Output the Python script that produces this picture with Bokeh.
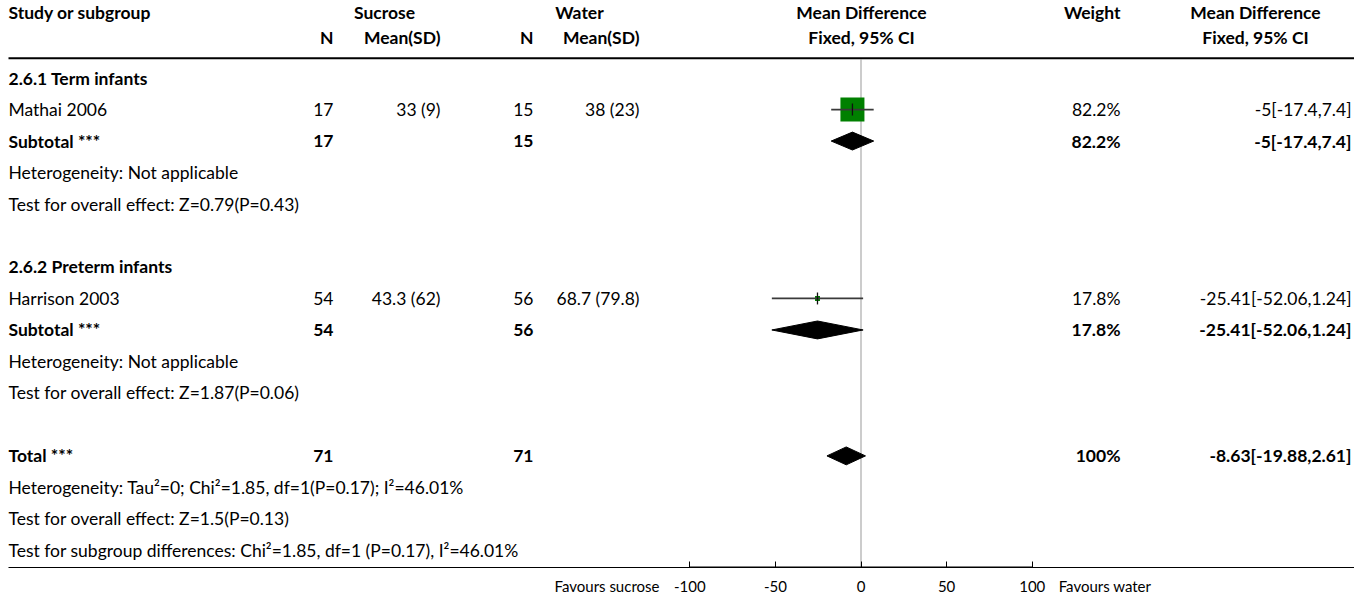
from bokeh.plotting import figure
from bokeh.models import Range1d, LinearAxis, FixedTicker
from bokeh.core.properties import value
from bokeh.embed import file_html
from bokeh.resources import INLINE

# ---------------- data ----------------
header_top = ["Study or subgroup", "Sucrose", "Water", "Mean Difference", "Weight", "Mean Difference"]
header_sub = ["N", "Mean(SD)", "N", "Mean(SD)", "Fixed, 95% CI", "Fixed, 95% CI"]

subgroups = ["2.6.1 Term infants", "2.6.2 Preterm infants"]
studies = ["Mathai 2006", "Harrison 2003"]
suc_n = [17, 54]
suc_mean = [33, 43.3]
suc_sd = [9, 62]
wat_n = [15, 56]
wat_mean = [38, 68.7]
wat_sd = [23, 79.8]
study_md = [-5, -25.41]
study_lo = [-17.4, -52.06]
study_hi = [7.4, 1.24]
study_weight = [82.2, 17.8]

sub_suc_n = [17, 54]
sub_wat_n = [15, 56]
sub_md = [-5, -25.41]
sub_lo = [-17.4, -52.06]
sub_hi = [7.4, 1.24]
sub_weight = [82.2, 17.8]
sub_het = ["Heterogeneity: Not applicable", "Heterogeneity: Not applicable"]
sub_test = ["Test for overall effect: Z=0.79(P=0.43)", "Test for overall effect: Z=1.87(P=0.06)"]

total_suc_n = 71
total_wat_n = 71
total_md = -8.63
total_lo = -19.88
total_hi = 2.61
total_weight = 100
total_notes = [
    "Heterogeneity: Tau\u00b2=0; Chi\u00b2=1.85, df=1(P=0.17); I\u00b2=46.01%",
    "Test for overall effect: Z=1.5(P=0.13)",
    "Test for subgroup differences: Chi\u00b2=1.85, df=1 (P=0.17), I\u00b2=46.01%",
]

axis_ticks = [-100, -50, 0, 50, 100]
favours = ["Favours sucrose", "Favours water"]

# ---------------- layout / style ----------------
FONT = "Lato"
FS = "17.5px"
W, H = 1354, 597
FRAME_H = 570
HY1, HY2, HLINE = 12, 37, 58
Y0, DY = 78, 31.65
PX_PER_UNIT = 1.7125
ZERO_PX = 860.5
md_start = -ZERO_PX / PX_PER_UNIT
md_end = md_start + W / PX_PER_UNIT
FAV_POS = [(606.5 - ZERO_PX) / PX_PER_UNIT, (1104.5 - ZERO_PX) / PX_PER_UNIT]

COL_LEFT = 8
COL_SN, COL_SM, COL_WN, COL_WM = 333, 440, 533, 639
COL_SUC_HEAD, COL_WAT_HEAD = 384, 579
COL_FOREST = 861
COL_WEIGHT = 1120
COL_CI_HEAD = 1255
COL_CI = 1351

p = figure(width=W, height=H, x_range=Range1d(0, W), y_range=Range1d(FRAME_H, 0),
           x_axis_type=None, y_axis_type=None, toolbar_location=None,
           output_backend="svg", min_border=0, min_border_bottom=H - FRAME_H)
p.outline_line_color = None
p.background_fill_color = "white"
p.border_fill_color = "white"
p.extra_x_ranges = {"md": Range1d(md_start, md_end)}

texts = {}  # (align, bold) -> lists


def add(x, y, t, align="left", bold=False):
    d = texts.setdefault((align, bold), {"x": [], "y": [], "t": []})
    d["x"].append(x)
    d["y"].append(y)
    d["t"].append(t)


def fmt_msd(m, s):
    return f"{m:g} ({s:g})"


def fmt_ci(m, lo, hi):
    return f"{m:g}[{lo:g},{hi:g}]"


# headers
add(COL_LEFT, HY1, header_top[0], "left", True)
add(COL_SUC_HEAD, HY1, header_top[1], "center", True)
add(COL_WAT_HEAD, HY1, header_top[2], "center", True)
add(COL_FOREST, HY1, header_top[3], "center", True)
add(COL_WEIGHT, HY1, header_top[4], "right", True)
add(COL_CI_HEAD, HY1, header_top[5], "center", True)
add(COL_SN, HY2, header_sub[0], "right", True)
add(COL_SM, HY2, header_sub[1], "right", True)
add(COL_WN, HY2, header_sub[2], "right", True)
add(COL_WM, HY2, header_sub[3], "right", True)
add(COL_FOREST, HY2, header_sub[4], "center", True)
add(COL_CI_HEAD, HY2, header_sub[5], "center", True)

study_rows, sub_rows = [], []
row = 0
for g in range(len(subgroups)):
    y = Y0 + row * DY
    add(COL_LEFT, y, subgroups[g], "left", True)
    row += 1
    y = Y0 + row * DY
    study_rows.append(y)
    add(COL_LEFT, y, studies[g])
    add(COL_SN, y, str(suc_n[g]), "right")
    add(COL_SM, y, fmt_msd(suc_mean[g], suc_sd[g]), "right")
    add(COL_WN, y, str(wat_n[g]), "right")
    add(COL_WM, y, fmt_msd(wat_mean[g], wat_sd[g]), "right")
    add(COL_WEIGHT, y, f"{study_weight[g]:g}%", "right")
    add(COL_CI, y, fmt_ci(study_md[g], study_lo[g], study_hi[g]), "right")
    row += 1
    y = Y0 + row * DY
    sub_rows.append(y)
    add(COL_LEFT, y, "Subtotal ***", "left", True)
    add(COL_SN, y, str(sub_suc_n[g]), "right", True)
    add(COL_WN, y, str(sub_wat_n[g]), "right", True)
    add(COL_WEIGHT, y, f"{sub_weight[g]:g}%", "right", True)
    add(COL_CI, y, fmt_ci(sub_md[g], sub_lo[g], sub_hi[g]), "right", True)
    row += 1
    add(COL_LEFT, Y0 + row * DY, sub_het[g])
    row += 1
    add(COL_LEFT, Y0 + row * DY, sub_test[g])
    row += 2

ty = Y0 + row * DY
add(COL_LEFT, ty, "Total ***", "left", True)
add(COL_SN, ty, str(total_suc_n), "right", True)
add(COL_WN, ty, str(total_wat_n), "right", True)
add(COL_WEIGHT, ty, f"{total_weight:g}%", "right", True)
add(COL_CI, ty, fmt_ci(total_md, total_lo, total_hi), "right", True)
for i, note in enumerate(total_notes):
    add(COL_LEFT, ty + (i + 1) * DY, note)

# rules
p.segment(x0=[8], x1=[W], y0=[HLINE], y1=[HLINE], line_color="black", line_width=2)
p.segment(x0=[0], x1=[0], y0=[HLINE + 1], y1=[FRAME_H], x_range_name="md",
          line_color="#999999", line_width=1)
p.segment(x0=[axis_ticks[0]], x1=[axis_ticks[-1]], y0=[FRAME_H - 0.5], y1=[FRAME_H - 0.5],
          x_range_name="md", line_color="black", line_width=1)

# study squares + CI
sq_size = [24, 5]
p.rect(x=study_md, y=study_rows, width=sq_size, height=sq_size, width_units="screen",
       height_units="screen", x_range_name="md", fill_color="#008000", line_color=None)
p.segment(x0=study_lo, x1=study_hi, y0=study_rows, y1=study_rows, x_range_name="md",
          line_color="#3a3a3a", line_width=1.8)
p.segment(x0=study_md, x1=study_md, y0=[y - 6 for y in study_rows], y1=[y + 6 for y in study_rows],
          x_range_name="md", line_color="#111111", line_width=1.3)

# diamonds
dh = 9
d_md = sub_md + [total_md]
d_lo = sub_lo + [total_lo]
d_hi = sub_hi + [total_hi]
d_y = sub_rows + [ty]
xs = [[lo, m, hi, m] for lo, m, hi in zip(d_lo, d_md, d_hi)]
ys = [[y, y - dh, y, y + dh] for y in d_y]
p.patches(xs=xs, ys=ys, x_range_name="md", fill_color="black", line_color="black", line_width=1)

# texts
for (align, bold), d in texts.items():
    p.text(x=d["x"], y=d["y"], text=d["t"], text_align=align, text_baseline="middle",
           text_font=value(FONT), text_font_size=FS, text_color="black",
           text_font_style="bold" if bold else "normal")

# axis: minor ticks carry the tick marks, major ticks carry the labels (incl. "Favours ...")
ax = LinearAxis(x_range_name="md",
                ticker=FixedTicker(ticks=axis_ticks + FAV_POS, minor_ticks=axis_ticks),
                bounds=(md_start + 8 / PX_PER_UNIT, md_end))
overrides = {t: str(t) for t in axis_ticks}
overrides[FAV_POS[0]] = favours[0]
overrides[FAV_POS[1]] = favours[1]
ax.major_label_overrides = overrides
ax.axis_line_width = 1
ax.axis_line_color = "black"
ax.major_tick_in = 0
ax.major_tick_out = 0
ax.minor_tick_in = 6
ax.minor_tick_out = 0
ax.minor_tick_line_color = "black"
ax.major_label_standoff = 9
ax.major_label_text_font = FONT
ax.major_label_text_font_size = "15px"
ax.major_label_text_color = "black"
p.add_layout(ax, "below")

open("out.html", "w").write(file_html(p, INLINE))
